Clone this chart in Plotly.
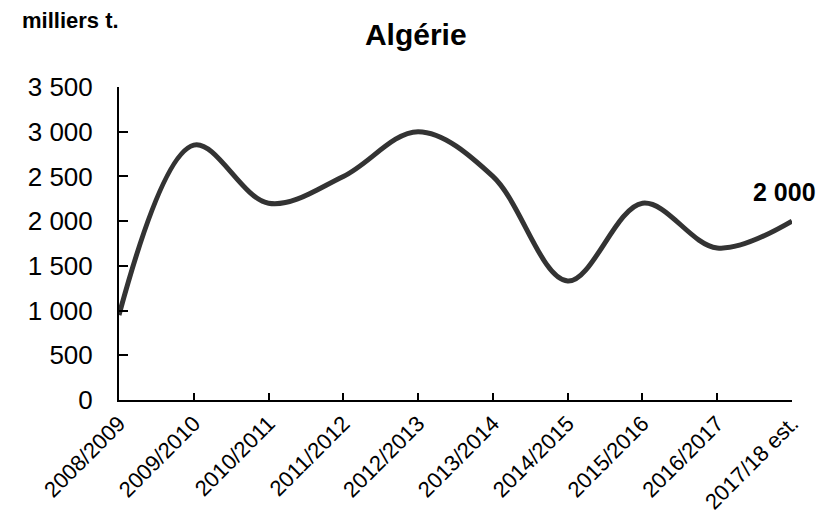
import plotly.graph_objects as go

seasons = ["2008/2009", "2009/2010", "2010/2011", "2011/2012", "2012/2013",
           "2013/2014", "2014/2015", "2015/2016", "2016/2017", "2017/18 est."]
volumes = [950, 2850, 2200, 2500, 3000, 2500, 1330, 2200, 1700, 2000]
y_ticks = [0, 500, 1000, 1500, 2000, 2500, 3000, 3500]

font = "Liberation Sans, Arial, sans-serif"

# the page body adds an 8px margin, so the figure is 8px smaller and offset
fig = go.Figure()
fig.add_trace(go.Scatter(
    x=seasons, y=volumes, mode="lines",
    line=dict(color="#333333", width=5, shape="spline", smoothing=1.0),
    hoverinfo="skip", showlegend=False,
))

# label on the last point
fig.add_annotation(
    x=seasons[-1], y=volumes[-1], text="<b>2 000</b>", showarrow=False,
    xanchor="center", yanchor="middle", xshift=-8, yshift=29,
    font=dict(family=font, size=25, color="black"),
)
fig.add_annotation(
    xref="paper", yref="paper", x=-0.147, y=1.214, text="<b>milliers t.</b>",
    showarrow=False, xanchor="left", yanchor="middle",
    font=dict(family=font, size=22, color="black"),
)

fig.update_layout(
    width=824, height=513,
    margin=dict(l=111, r=40, t=79, b=121),
    paper_bgcolor="white", plot_bgcolor="white",
    separators=", ",
    title=dict(text="<b>Algérie</b>", x=0.441, xref="paper", xanchor="center",
               y=0.948, yanchor="middle",
               font=dict(family=font, size=30, color="black")),
    font=dict(family=font, color="black"),
)
fig.update_xaxes(
    type="category", range=[0, len(seasons) - 1], automargin=False,
    showline=True, linecolor="black", linewidth=2,
    ticks="inside", ticklen=7, tickcolor="black", tickwidth=2,
    tickangle=-45, tickfont=dict(size=22, family=font, color="black"),
    ticklabelstandoff=0,
    showgrid=False, zeroline=False,
)
fig.update_yaxes(
    range=[0, 3500], tickvals=y_ticks, tickformat=",d", automargin=False,
    showline=True, linecolor="black", linewidth=2,
    ticks="inside", ticklen=9, tickcolor="black", tickwidth=2,
    tickfont=dict(size=26, family=font, color="black"), ticklabelstandoff=19,
    showgrid=False, zeroline=False,
)

fig.write_html("out.html")
